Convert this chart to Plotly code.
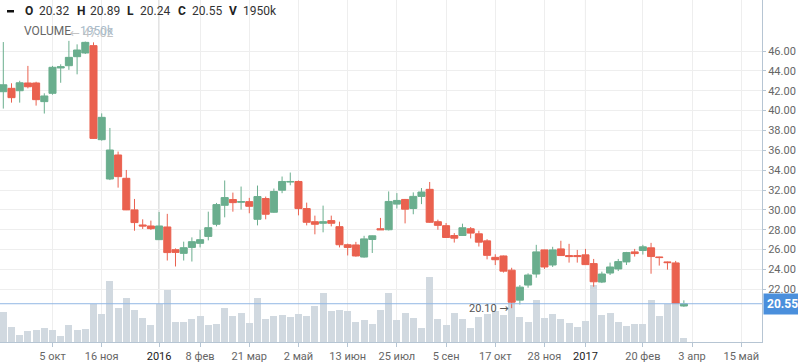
import pandas as pd
import plotly.graph_objects as go

start_week = "2015-08-24"
n_weeks = 84
dates = pd.date_range(start_week, periods=n_weeks, freq="7D")

open_ = [41.9, 42.24, 42.0, 42.78, 42.78, 40.9, 41.74, 44.29, 44.52, 45.43,
         45.8, 46.54, 37.07, 33.11, 35.53, 33.18, 30.0, 28.48, 28.38, 27.0,
         28.28, 25.99, 25.62, 26.22, 26.63, 27.33, 28.55, 30.46, 31.04, 30.77,
         30.83, 29.05, 31.14, 29.76, 31.98, 32.8, 32.86, 30.13, 28.81, 28.65,
         28.92, 28.31, 26.49, 26.47, 25.25, 27.02, 28.1, 28.0, 30.58, 31.05,
         30.14, 31.36, 32.07, 28.81, 28.41, 27.42, 27.42, 28.1, 27.59, 26.88,
         25.22, 25.36, 23.93, 20.91, 22.43, 23.54, 25.97, 24.45, 26.07, 25.4,
         25.4, 25.47, 24.59, 22.73, 23.64, 24.05, 24.76, 25.77, 25.91, 26.18,
         25.26, 24.76, 24.66, 20.32]
high = [46.9, 42.75, 43.0, 44.5, 42.9, 41.74, 44.5, 44.66, 47.02, 46.67,
        46.95, 46.87, 39.72, 38.25, 35.87, 34.02, 31.1, 29.05, 28.92, 29.79,
        29.6, 26.12, 26.8, 27.23, 28.0, 29.82, 30.7, 32.96, 31.74, 32.35,
        31.21, 32.45, 31.34, 32.15, 33.36, 33.76, 32.96, 30.73, 29.42, 30.43,
        29.42, 28.81, 26.6, 26.78, 27.39, 27.42, 29.19, 31.86, 31.69, 31.1,
        31.76, 32.2, 32.81, 29.02, 28.68, 27.66, 28.61, 28.27, 27.9, 27.05,
        25.53, 25.4, 24.17, 22.43, 23.61, 26.48, 26.0, 26.28, 26.89, 26.58,
        25.97, 26.07, 25.06, 23.78, 24.69, 25.06, 25.77, 26.07, 26.48, 26.68,
        25.28, 24.8, 24.86, 20.89]
low = [40.2, 40.8, 40.8, 42.24, 40.5, 39.7, 41.6, 42.8, 44.1, 43.65,
       45.7, 37.15, 36.97, 33.0, 32.24, 29.98, 27.9, 28.08, 27.98, 26.99,
       24.9, 24.3, 24.9, 24.8, 26.22, 26.93, 28.34, 29.25, 29.82, 30.03,
       29.66, 28.44, 29.05, 29.7, 31.68, 32.48, 29.45, 28.44, 27.54, 27.74,
       28.34, 26.22, 25.41, 25.29, 25.19, 25.66, 27.98, 27.93, 30.14, 28.64,
       29.56, 30.58, 28.7, 28.0, 27.2, 26.71, 27.4, 27.12, 26.31, 25.02,
       24.44, 23.69, 20.1, 20.47, 22.16, 23.17, 24.05, 24.25, 25.38, 24.69,
       24.69, 24.45, 22.26, 22.63, 23.44, 23.84, 24.45, 25.3, 25.5, 23.57,
       24.39, 23.98, 20.52, 20.24]
close = [42.6, 41.3, 42.8, 42.4, 41.1, 41.47, 44.36, 44.42, 45.36, 46.1,
         46.87, 37.2, 39.32, 36.03, 33.35, 30.0, 28.72, 28.38, 28.11, 28.38,
         25.7, 25.72, 26.19, 26.8, 27.0, 28.21, 30.53, 31.24, 30.73, 30.83,
         30.36, 31.34, 29.56, 31.85, 32.86, 32.86, 30.13, 28.75, 28.55, 28.81,
         28.65, 26.49, 26.22, 25.36, 27.08, 27.39, 28.0, 30.85, 30.95, 30.07,
         31.36, 31.8, 28.75, 28.44, 27.22, 27.15, 28.2, 27.66, 26.75, 25.42,
         24.98, 23.83, 20.71, 22.22, 23.44, 25.77, 24.25, 25.97, 25.4, 25.3,
         25.3, 24.49, 22.76, 23.54, 24.25, 24.79, 25.7, 25.6, 26.28, 25.3,
         25.2, 24.69, 20.57, 20.55]
volume_k = [14770, 7460, 3410, 5360, 5850, 6830, 5850, 2930, 8290, 5850,
            6340, 18530, 13650, 29880, 16580, 21600, 15600, 11850, 8290, 18380,
            25350, 9750, 9750, 11210, 12680, 8290, 8780, 16580, 12680, 14140,
            9260, 21450, 11210, 12680, 13160, 12190, 13650, 12680, 17550, 23890,
            15110, 15600, 15110, 9750, 10730, 8780, 15600, 23890, 10730, 14140,
            11700, 6830, 31690, 11210, 8290, 14140, 11210, 6830, 12190, 13650,
            15110, 13160, 19500, 12190, 9750, 20480, 11700, 13650, 11210, 9260,
            7310, 10240, 27790, 13160, 14140, 9750, 7800, 8780, 8780, 20480,
            12680, 18530, 19010, 1950]

tick_dates = ["2015-10-05", "2015-11-16", "2016-01-04", "2016-02-08", "2016-03-21",
              "2016-05-02", "2016-06-13", "2016-07-25", "2016-09-05", "2016-10-17",
              "2016-11-28", "2017-01-02", "2017-02-20", "2017-04-03", "2017-05-15"]
tick_labels = ["5 окт", "16 ноя", "2016", "8 фев", "21 мар", "2 май", "13 июн",
               "25 июл", "5 сен", "17 окт", "28 ноя", "2017", "20 фев", "3 апр", "15 май"]
year_dates = ["2016-01-04", "2017-01-02"]
price_ticks = [22, 24, 26, 28, 30, 32, 34, 36, 38, 40, 42, 44, 46]

last_price = 20.55
max_price, max_idx = 47.02, 8
min_price, min_idx = 20.10, 62

GREEN = "#6aae8e"
RED = "#ea614f"
AXIS = "#b6c5d3"
GRID = "#eeeeee"
FONT = "Roboto"
ARROW = '<span style="font-family:DejaVu Sans">{}</span>'

ticktext = [f'<span style="color:#222">{t}</span>' if t in ("2016", "2017") else t
            for t in tick_labels]

fig = go.Figure()
fig.add_trace(go.Bar(
    x=dates, y=volume_k, yaxis="y", marker=dict(color="#d1d9e0", line=dict(width=0)),
    width=0.86 * 7 * 86400000, hoverinfo="skip", showlegend=False))
fig.add_trace(go.Candlestick(
    x=dates, open=open_, high=high, low=low, close=close, yaxis="y2",
    increasing=dict(line=dict(color=GREEN, width=1), fillcolor=GREEN),
    decreasing=dict(line=dict(color=RED, width=1), fillcolor=RED),
    whiskerwidth=0, showlegend=False))

W, H = 762, 342


def px(x):
    return x / W


def py(y):
    return 1 - y / H


annotations = []
annotations.append(dict(x=dates[max_idx], y=max_price, xref="x", yref="y2", xanchor="left",
                        yanchor="bottom", text=ARROW.format("←") + " " + f"{max_price:.2f}",
                        showarrow=False, font=dict(family=FONT, size=12, color="#c3c3c3"),
                        borderpad=0))
annotations.append(dict(x=dates[min_idx], y=min_price, xref="x", yref="y2", xanchor="right",
                        yanchor="middle", xshift=-2,
                        text=f"{min_price:.2f}" + " " + ARROW.format("→"),
                        showarrow=False, font=dict(family=FONT, size=11, color="#555"),
                        borderpad=0))

legend_items = [
    (24, "<b>O</b>", "#222"), (38, f"{open_[-1]:.2f}", "#333"),
    (76, "<b>H</b>", "#222"), (89, f"{high[-1]:.2f}", "#333"),
    (126, "<b>L</b>", "#222"), (139, f"{low[-1]:.2f}", "#333"),
    (177, "<b>C</b>", "#222"), (191, f"{close[-1]:.2f}", "#333"),
    (228, "<b>V</b>", "#222"), (242, f"{volume_k[-1]}k", "#333"),
]
for xp, t, c in legend_items:
    annotations.append(dict(x=px(xp), y=py(11), xref="paper", yref="paper", xanchor="left",
                            yanchor="middle", text=t, showarrow=False, borderpad=0,
                            font=dict(family=FONT, size=12, color=c)))
annotations.append(dict(x=px(23), y=py(31), xref="paper", yref="paper", xanchor="left",
                        yanchor="middle", text="VOLUME", showarrow=False, borderpad=0,
                        font=dict(family=FONT, size=12, color="#666")))
annotations.append(dict(x=px(79), y=py(31), xref="paper", yref="paper", xanchor="left",
                        yanchor="middle", text=f"{volume_k[-1]}k", showarrow=False, borderpad=0,
                        font=dict(family=FONT, size=12, color="#a9bccb")))
annotations.append(dict(x=1, y=last_price, xref="paper", yref="y2", xanchor="left",
                        yanchor="middle", xshift=1, text=f"<b>{last_price:.2f}</b>",
                        showarrow=False, bgcolor="#4a8fdc", borderpad=3,
                        font=dict(family=FONT, size=12, color="white")))

shapes = []
for yd in year_dates:
    shapes.append(dict(type="line", xref="x", yref="paper", x0=yd, x1=yd, y0=0, y1=1,
                       line=dict(color="#bdbdbd", width=1), layer="below"))
shapes.append(dict(type="line", xref="paper", yref="y2", x0=0, x1=1, y0=last_price,
                   y1=last_price, line=dict(color="#93b8e4", width=1), layer="above"))
shapes.append(dict(type="rect", xref="paper", yref="paper", x0=px(7), x1=px(14),
                   y0=py(12.5), y1=py(10), fillcolor="#111", line=dict(width=0),
                   layer="above"))

fig.update_layout(
    width=798, height=363,
    margin=dict(l=0, r=36, t=0, b=21, autoexpand=False),
    paper_bgcolor="white", plot_bgcolor="white",
    font=dict(family=FONT, size=11, color="#666"),
    showlegend=False, bargap=0, boxgap=0.14, boxgroupgap=0,
    xaxis=dict(type="date", range=["2015-08-21 04:20", "2017-06-01 17:00"],
               tickvals=tick_dates, ticktext=ticktext, showgrid=True, gridcolor=GRID,
               showline=True, linecolor=AXIS, ticks="outside", ticklen=4, tickcolor=AXIS,
               tickfont=dict(family=FONT, size=11, color="#666"),
               rangeslider=dict(visible=False), zeroline=False, automargin=False),
    yaxis=dict(range=[0, 166725], visible=False, showgrid=False, zeroline=False),
    yaxis2=dict(overlaying="y", side="right", range=[16.695, 51.136], tickvals=price_ticks,
                tickformat=".2f", showgrid=True, gridcolor=GRID, showline=True,
                linecolor=AXIS, ticks="outside", ticklen=3, tickcolor=AXIS, zeroline=False,
                automargin=False, tickfont=dict(family=FONT, size=11, color="#666")),
    annotations=annotations, shapes=shapes,
)

fig.write_html("out.html", config={"displayModeBar": False},
               post_script="document.body.style.margin='0';document.body.style.overflow='hidden';")
